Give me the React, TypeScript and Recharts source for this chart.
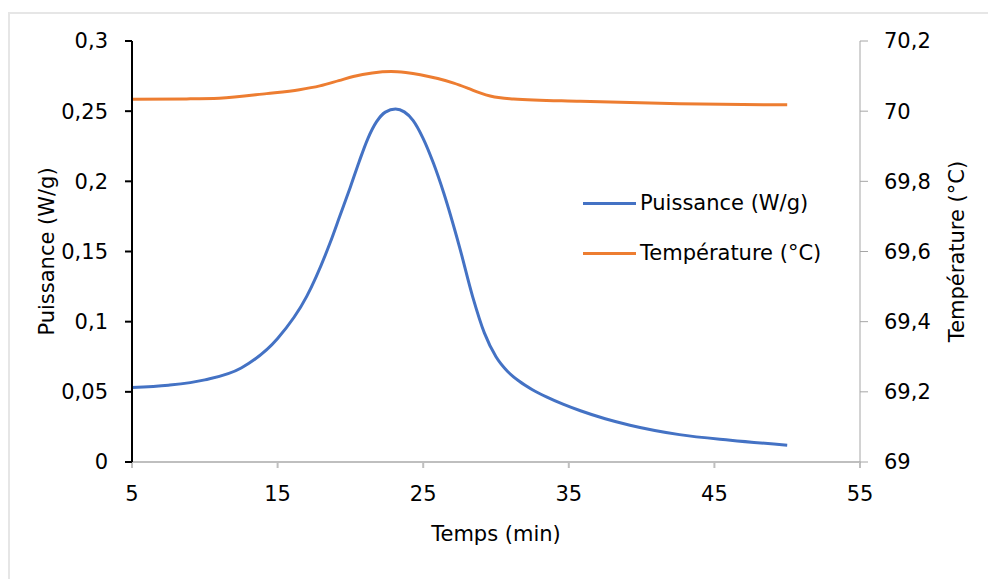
import { LineChart, Line, XAxis, YAxis, Legend } from 'recharts';

// Puissance (W/g) vs temps (min)
const powerTimes = [5, 7.5, 10, 12.5, 15, 17, 18.6, 19.3, 20, 20.6, 21.2, 21.8, 22.4, 23.1, 23.7, 24.3, 25, 25.7, 26.4, 27.5, 28.4, 29.2, 30, 30.8, 31.6, 32.5, 33.5, 34.6, 35.8, 37.5, 39.2, 42.6, 46.1, 50];
const powerValues = [0.0531, 0.0547, 0.0585, 0.067, 0.088, 0.118, 0.156, 0.176, 0.196, 0.214, 0.2305, 0.2425, 0.2493, 0.2515, 0.2495, 0.2435, 0.2305, 0.213, 0.192, 0.153, 0.1177, 0.092, 0.075, 0.0645, 0.0575, 0.0515, 0.0462, 0.0412, 0.0365, 0.0308, 0.0262, 0.0195, 0.0155, 0.012];

// Température (°C) vs temps (min)
const tempTimes = [5, 8.75, 11, 14.25, 16.5, 17.9, 19.2, 20.2, 21.5, 22.8, 23.8, 24.8, 26, 27.1, 28.1, 28.9, 29.6, 30.3, 31.2, 35.8, 42.6, 50];
const tempValues = [70.034, 70.035, 70.037, 70.05, 70.061, 70.072, 70.087, 70.099, 70.109, 70.113, 70.11, 70.104, 70.093, 70.08, 70.065, 70.052, 70.043, 70.038, 70.035, 70.028, 70.021, 70.018];

const xTicks = [5, 15, 25, 35, 45, 55];
const leftTicks = [0, 0.05, 0.1, 0.15, 0.2, 0.25, 0.3];
const rightTicks = [69, 69.2, 69.4, 69.6, 69.8, 70, 70.2];

const powerData = powerTimes.map((t, i) => ({ t, puissance: powerValues[i] }));
const tempData = tempTimes.map((t, i) => ({ t, temperature: tempValues[i] }));

const FONT = '"DejaVu Sans", sans-serif';
const comma = (v: number) => String(v).replace('.', ',');

function LegendBox({ payload }: any) {
  return (
    <div style={{ fontFamily: FONT, fontSize: 21, color: '#000' }}>
      {(payload || []).map((p: any) => (
        <div key={p.value} style={{ display: 'flex', alignItems: 'center', height: 50 }}>
          <div style={{ width: 53, height: 3, background: p.color, marginRight: 4 }} />
          <span>{p.value}</span>
        </div>
      ))}
    </div>
  );
}

export default function App() {
  return (
    <div style={{ position: 'absolute', left: 0, top: 0, width: 988, height: 579, background: '#fff' }}>
      <div style={{ position: 'absolute', left: 8, top: 12, right: 0, bottom: 0, borderTop: '2px solid #e6e6e6', borderLeft: '2px solid #e6e6e6' }} />
      <div style={{ position: 'absolute', left: 0, top: 0 }}>
        <LineChart width={988} height={579} margin={{ top: 41, right: 31, bottom: 37, left: 47 }}>
          <XAxis
            dataKey="t"
            type="number"
            domain={[5, 55]}
            ticks={xTicks}
            allowDuplicatedCategory={false}
            height={80}
            stroke="#bfbfbf"
            strokeWidth={2}
            tickSize={6}
            tickMargin={18}
            tick={{ fill: '#000', fontSize: 21, fontFamily: FONT }}
            label={{ value: 'Temps (min)', position: 'insideBottom', offset: 1, fill: '#000', fontSize: 21, fontFamily: FONT }}
          />
          <YAxis
            yAxisId="left"
            domain={[0, 0.3]}
            ticks={leftTicks}
            width={85}
            stroke="#000"
            strokeWidth={2}
            tickSize={7}
            tickMargin={17}
            tickFormatter={comma}
            tick={{ fill: '#000', fontSize: 21, fontFamily: FONT }}
            label={{ value: 'Puissance (W/g)', angle: -90, position: 'insideLeft', offset: 0, fill: '#000', fontSize: 21, fontFamily: FONT, style: { textAnchor: 'middle' } }}
          />
          <YAxis
            yAxisId="right"
            orientation="right"
            domain={[69, 70.2]}
            ticks={rightTicks}
            width={97}
            stroke="#a6a6a6"
            tickSize={8}
            tickMargin={16}
            tickFormatter={comma}
            tick={{ fill: '#000', fontSize: 21, fontFamily: FONT, textAnchor: 'start' }}
            label={{ value: 'Température (°C)', angle: -90, position: 'insideRight', offset: 0, fill: '#000', fontSize: 21, fontFamily: FONT, style: { textAnchor: 'middle' } }}
          />
          <Legend
            layout="vertical"
            align="center"
            verticalAlign="middle"
            content={<LegendBox />}
            wrapperStyle={{ left: 583, top: 178, width: 280 }}
          />
          <Line
            yAxisId="left"
            data={powerData}
            dataKey="puissance"
            name="Puissance (W/g)"
            type="monotone"
            stroke="#4472C4"
            strokeWidth={3}
            dot={false}
            isAnimationActive={false}
          />
          <Line
            yAxisId="right"
            data={tempData}
            dataKey="temperature"
            name="Température (°C)"
            type="monotone"
            stroke="#ED7D31"
            strokeWidth={3}
            dot={false}
            isAnimationActive={false}
          />
        </LineChart>
      </div>
    </div>
  );
}
